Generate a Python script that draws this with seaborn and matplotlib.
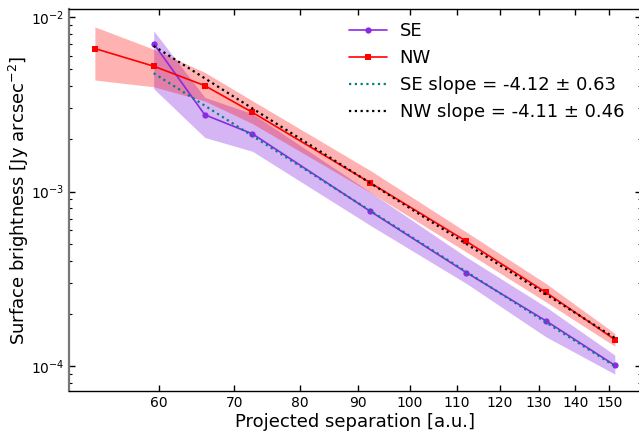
import numpy as np
import pandas as pd
import matplotlib
matplotlib.use('Agg')
import matplotlib.pyplot as plt
import matplotlib.ticker as mticker
import seaborn as sns

# Projected separation [a.u.]
sep_nw = [52.7, 59.4, 65.9, 72.6, 92.3, 112.2, 131.9, 151.7]
sep_se = [59.4, 65.9, 72.6, 92.3, 112.2, 131.9, 151.7]

# Surface brightness [Jy arcsec^-2]
sb_se = [7.03e-3, 2.75e-3, 2.14e-3, 7.69e-4, 3.43e-4, 1.815e-4, 1.01e-4]
sb_se_lo = [3.88e-3, 2.04e-3, 1.70e-3, 6.39e-4, 2.97e-4, 1.47e-4, 9.0e-5]
sb_se_hi = [8.32e-3, 3.46e-3, 2.79e-3, 9.91e-4, 4.21e-4, 2.18e-4, 1.156e-4]

sb_nw = [6.59e-3, 5.22e-3, 4.04e-3, 2.84e-3, 1.12e-3, 5.18e-4, 2.64e-4, 1.42e-4]
sb_nw_lo = [4.35e-3, 3.98e-3, 3.30e-3, 2.45e-3, 9.87e-4, 4.5e-4, 2.33e-4, 1.30e-4]
sb_nw_hi = [8.77e-3, 6.53e-3, 4.81e-3, 3.31e-3, 1.318e-3, 5.85e-4, 2.97e-4, 1.54e-4]

# power-law fits (end points)
fit_x = [59.4, 151.7]
fit_se = [4.76e-3, 1.0e-4]
fit_nw = [6.82e-3, 1.45e-4]

se_df = pd.DataFrame({'sep': sep_se, 'sb': sb_se})
nw_df = pd.DataFrame({'sep': sep_nw, 'sb': sb_nw})

sns.set_style('ticks')
plt.rcParams['font.family'] = ['DejaVu Sans']
plt.rcParams['text.color'] = 'black'
plt.rcParams['axes.labelcolor'] = 'black'
plt.rcParams['xtick.color'] = 'black'
plt.rcParams['ytick.color'] = 'black'

fig = plt.figure(figsize=(6.39, 4.32), dpi=100)
ax = fig.add_axes([69 / 639, 1 - 391 / 432, 572 / 639, 382 / 432])
ax.set_xscale('log')
ax.set_yscale('log')

purple = '#8a2be2'
ax.fill_between(sep_se, sb_se_lo, sb_se_hi, color=purple, alpha=0.35, lw=0)
ax.fill_between(sep_nw, sb_nw_lo, sb_nw_hi, color='red', alpha=0.3, lw=0)

sns.lineplot(data=se_df, x='sep', y='sb', ax=ax, color=purple, marker='o',
             markersize=4.5, markeredgewidth=0, lw=1.2, label='SE')
sns.lineplot(data=nw_df, x='sep', y='sb', ax=ax, color='red', marker='s',
             markersize=4.5, markeredgewidth=0, lw=1.2, label='NW')
ax.plot(fit_x, fit_se, color='teal', ls=(0, (1, 1.6)), lw=1.6,
        label='SE slope = -4.12 ± 0.63')
ax.plot(fit_x, fit_nw, color='black', ls=(0, (1, 1.6)), lw=1.6,
        label='NW slope = -4.11 ± 0.46')

ax.set_xlim(50, 160)
ax.set_ylim(7.2e-5, 1.11e-2)

xt = [60, 70, 80, 90, 100, 110, 120, 130, 140, 150]
ax.xaxis.set_major_locator(mticker.FixedLocator(xt))
ax.xaxis.set_minor_locator(mticker.NullLocator())
ax.xaxis.set_major_formatter(mticker.FixedFormatter([str(v) for v in xt]))

ax.tick_params(which='both', direction='in', top=True, right=True, labelsize=10)
ax.tick_params(which='major', length=4.5, width=1)
ax.tick_params(which='minor', length=2.5, width=0.8)
for s in ax.spines.values():
    s.set_linewidth(1)
    s.set_color('black')
ax.spines['left'].set_color('#777777')
ax.spines['left'].set_linewidth(1.6)

ax.set_xlabel('Projected separation [a.u.]', fontsize=13, labelpad=2)
ax.set_ylabel('Surface brightness [Jy arcsec$^{-2}$]', fontsize=13, labelpad=0)

ax.legend(loc='upper left', bbox_to_anchor=(0.477, 0.985), frameon=False,
          fontsize=13, borderaxespad=0, handlelength=2.1, handletextpad=0.7,
          labelspacing=0.5)

fig.savefig('out.png', dpi=100)
